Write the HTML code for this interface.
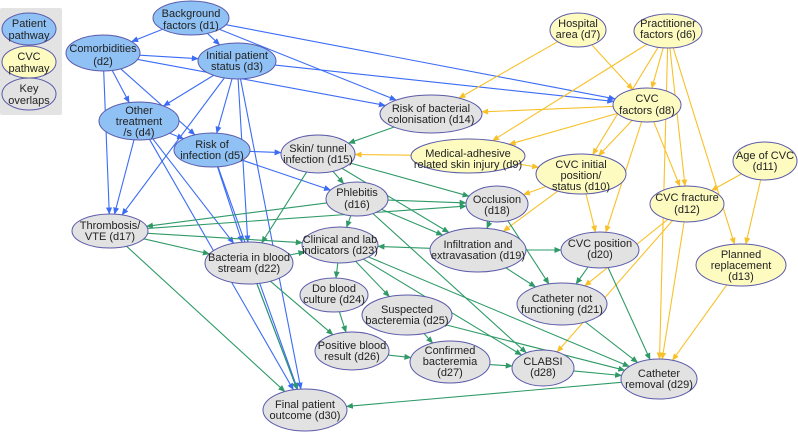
<!DOCTYPE html>
<html><head><meta charset="utf-8"><style>
html,body{margin:0;padding:0;background:#fff;}
svg{display:block;}
text{font-family:"Liberation Sans",Arial,sans-serif;font-size:11px;fill:#222;text-anchor:middle;}
</style></head><body>
<svg id="s" width="798" height="432" viewBox="0 0 798 432" xmlns="http://www.w3.org/2000/svg">
<defs>
<marker id="mb" markerWidth="7" markerHeight="6" refX="6.5" refY="3" orient="auto" markerUnits="userSpaceOnUse"><path d="M0,0 L7,3 L0,6 z" fill="#3b6cf5"/></marker>
<marker id="my" markerWidth="7" markerHeight="6" refX="6.5" refY="3" orient="auto" markerUnits="userSpaceOnUse"><path d="M0,0 L7,3 L0,6 z" fill="#f8c12a"/></marker>
<marker id="mg" markerWidth="7" markerHeight="6" refX="6.5" refY="3" orient="auto" markerUnits="userSpaceOnUse"><path d="M0,0 L7,3 L0,6 z" fill="#2f9a68"/></marker>
</defs>
<rect x="0" y="8" width="62" height="107" fill="#e3e3e3" rx="2"/>
<g id="edges"></g>
<g id="nodes" stroke="#5a5aaa" stroke-width="1">
<ellipse cx="29" cy="29" rx="27" ry="16" fill="#8fc1f4"/>
<ellipse cx="29" cy="62" rx="27" ry="16" fill="#fdfbc0"/>
<ellipse cx="29" cy="94" rx="27" ry="16" fill="#e2e2e2"/>
<ellipse cx="191" cy="18" rx="38" ry="17" fill="#8fc1f4"/>
<ellipse cx="103" cy="53" rx="37" ry="18" fill="#8fc1f4"/>
<ellipse cx="237" cy="61" rx="39" ry="18" fill="#8fc1f4"/>
<ellipse cx="139" cy="121" rx="40" ry="19" fill="#8fc1f4"/>
<ellipse cx="212" cy="150" rx="38" ry="17" fill="#8fc1f4"/>
<ellipse cx="578" cy="30" rx="28" ry="17" fill="#fdfbc0"/>
<ellipse cx="668" cy="31" rx="34" ry="17" fill="#fdfbc0"/>
<ellipse cx="647" cy="105" rx="34" ry="17" fill="#fdfbc0"/>
<ellipse cx="468" cy="156" rx="57" ry="17" fill="#fdfbc0"/>
<ellipse cx="581" cy="174" rx="45" ry="20" fill="#fdfbc0"/>
<ellipse cx="765" cy="161" rx="32" ry="19" fill="#fdfbc0"/>
<ellipse cx="687" cy="204" rx="37" ry="18" fill="#fdfbc0"/>
<ellipse cx="741" cy="265" rx="45" ry="21" fill="#fdfbc0"/>
<ellipse cx="431" cy="114" rx="51" ry="19" fill="#e2e2e2"/>
<ellipse cx="318" cy="154" rx="37" ry="19" fill="#e2e2e2"/>
<ellipse cx="357" cy="199" rx="31" ry="17" fill="#e2e2e2"/>
<ellipse cx="110" cy="231" rx="38" ry="17" fill="#e2e2e2"/>
<ellipse cx="497" cy="204" rx="31" ry="18" fill="#e2e2e2"/>
<ellipse cx="478" cy="250" rx="48" ry="22" fill="#e2e2e2"/>
<ellipse cx="600" cy="250" rx="39" ry="18" fill="#e2e2e2"/>
<ellipse cx="562" cy="304" rx="45" ry="21" fill="#e2e2e2"/>
<ellipse cx="249" cy="263" rx="44" ry="21" fill="#e2e2e2"/>
<ellipse cx="340" cy="245" rx="38" ry="18" fill="#e2e2e2"/>
<ellipse cx="334" cy="295" rx="34" ry="17" fill="#e2e2e2"/>
<ellipse cx="407" cy="315" rx="45" ry="20" fill="#e2e2e2"/>
<ellipse cx="352" cy="351" rx="37" ry="19" fill="#e2e2e2"/>
<ellipse cx="450" cy="362" rx="40" ry="21" fill="#e2e2e2"/>
<ellipse cx="543" cy="368" rx="31" ry="18" fill="#e2e2e2"/>
<ellipse cx="659" cy="379" rx="38" ry="20" fill="#e2e2e2"/>
<ellipse cx="305" cy="410" rx="42" ry="21" fill="#e2e2e2"/>
</g>
<g>
<text x="29" y="27">Patient</text><text x="29" y="39">pathway</text>
<text x="29" y="60">CVC</text><text x="29" y="72">pathway</text>
<text x="29" y="92">Key</text><text x="29" y="104">overlaps</text>
<text x="191" y="17">Background</text><text x="191" y="29">factors (d1)</text>
<text x="103" y="52">Comorbidities</text><text x="103" y="65">(d2)</text>
<text x="237" y="59">Initial patient</text><text x="237" y="70">status (d3)</text>
<text x="139" y="114">Other</text><text x="139" y="125">treatment</text><text x="139" y="136">/s (d4)</text>
<text x="212" y="148">Risk of</text><text x="212" y="159">infection (d5)</text>
<text x="578" y="27">Hospital</text><text x="578" y="38">area (d7)</text>
<text x="668" y="27">Practitioner</text><text x="668" y="38">factors (d6)</text>
<text x="647" y="102">CVC</text><text x="647" y="114">factors (d8)</text>
<text x="468" y="157">Medical-adhesive</text><text x="468" y="168">related skin injury (d9)</text>
<text x="581" y="168">CVC initial</text><text x="581" y="179">position/</text><text x="581" y="190">status (d10)</text>
<text x="765" y="159">Age of CVC</text><text x="765" y="170">(d11)</text>
<text x="687" y="201">CVC fracture</text><text x="687" y="213">(d12)</text>
<text x="741" y="258">Planned</text><text x="741" y="269">replacement</text><text x="741" y="280">(d13)</text>
<text x="431" y="112">Risk of bacterial</text><text x="431" y="123">colonisation (d14)</text>
<text x="318" y="152">Skin/ tunnel</text><text x="318" y="163">infection (d15)</text>
<text x="357" y="196">Phlebitis</text><text x="357" y="208">(d16)</text>
<text x="110" y="229">Thrombosis/</text><text x="110" y="240">VTE (d17)</text>
<text x="497" y="203">Occlusion</text><text x="497" y="214">(d18)</text>
<text x="478" y="248">Infiltration and</text><text x="478" y="259">extravasation (d19)</text>
<text x="600" y="247">CVC position</text><text x="600" y="258">(d20)</text>
<text x="562" y="302">Catheter not</text><text x="562" y="313">functioning (d21)</text>
<text x="249" y="261">Bacteria in blood</text><text x="249" y="272">stream (d22)</text>
<text x="340" y="243">Clinical and lab</text><text x="340" y="254">indicators (d23)</text>
<text x="334" y="292">Do blood</text><text x="334" y="303">culture (d24)</text>
<text x="407" y="313">Suspected</text><text x="407" y="324">bacteremia (d25)</text>
<text x="352" y="349">Positive blood</text><text x="352" y="360">result (d26)</text>
<text x="450" y="354">Confirmed</text><text x="450" y="365">bacteremia</text><text x="450" y="376">(d27)</text>
<text x="543" y="365">CLABSI</text><text x="543" y="376">(d28)</text>
<text x="659" y="377">Catheter</text><text x="659" y="388">removal (d29)</text>
<text x="305" y="408">Final patient</text><text x="305" y="419">outcome (d30)</text>
</g>
</svg>
<script>
var N={1:[191,18,38,17],2:[103,53,37,18],3:[237,61,39,18],4:[139,121,40,19],5:[212,150,38,17],
7:[578,30,28,17],6:[668,31,34,17],8:[647,105,34,17],9:[468,156,57,17],10:[581,174,45,20],11:[765,161,32,19],
12:[687,204,37,18],13:[741,265,45,21],14:[431,114,51,19],15:[318,154,37,19],16:[357,199,31,17],17:[110,231,38,17],
18:[497,204,31,18],19:[478,250,48,22],20:[600,250,39,18],21:[562,304,45,21],22:[249,263,44,21],23:[340,245,38,18],
24:[334,295,34,17],25:[407,315,45,20],26:[352,351,37,19],27:[450,362,40,21],28:[543,368,31,18],29:[659,379,38,20],30:[305,410,42,21]};
var E={b:"1-2 1-3 1-14 1-8 2-3 2-4 2-5 2-17 2-14 3-8 3-4 3-5 3-17 3-22 3-30 4-17 4-22 4-30 4-5 5-15 5-16 5-22 5-30 22-30",
y:"7-14 7-8 6-9 6-8 6-10 6-12 6-13 6-29 8-14 8-9 8-10 8-12 8-20 9-15 9-10 10-18 10-19 10-20 11-12 11-13 12-21 12-28 12-29 13-29",
g:"14-15 15-16 15-18 15-19 15-22 16-17 16-19 16-23 16-28 16-18 17-18 17-23 17-22 17-30 18-19 18-21 19-20 19-21 19-23 20-21 20-29 21-29 22-23 22-26 22-30 23-24 23-25 23-28 23-29 24-26 25-27 25-29 26-27 27-28 28-29 29-30"};
var C={b:"#3b6cf5",y:"#f8c12a",g:"#2f9a68"};
function pt(n,dx,dy){var t=1/Math.sqrt((dx/n[2])*(dx/n[2])+(dy/n[3])*(dy/n[3]));return [n[0]+dx*t,n[1]+dy*t];}
var g=document.getElementById("edges"),h="";
for(var k in E){E[k].split(" ").forEach(function(e){var p=e.split("-"),a=N[p[0]],b=N[p[1]];
var dx=b[0]-a[0],dy=b[1]-a[1];var s=pt(a,dx,dy),t=pt(b,-dx,-dy);
h+='<line x1="'+s[0].toFixed(1)+'" y1="'+s[1].toFixed(1)+'" x2="'+t[0].toFixed(1)+'" y2="'+t[1].toFixed(1)+'" stroke="'+C[k]+'" stroke-width="1.1" marker-end="url(#m'+k+')"/>';});}
g.innerHTML=h;
</script>
</body></html>
